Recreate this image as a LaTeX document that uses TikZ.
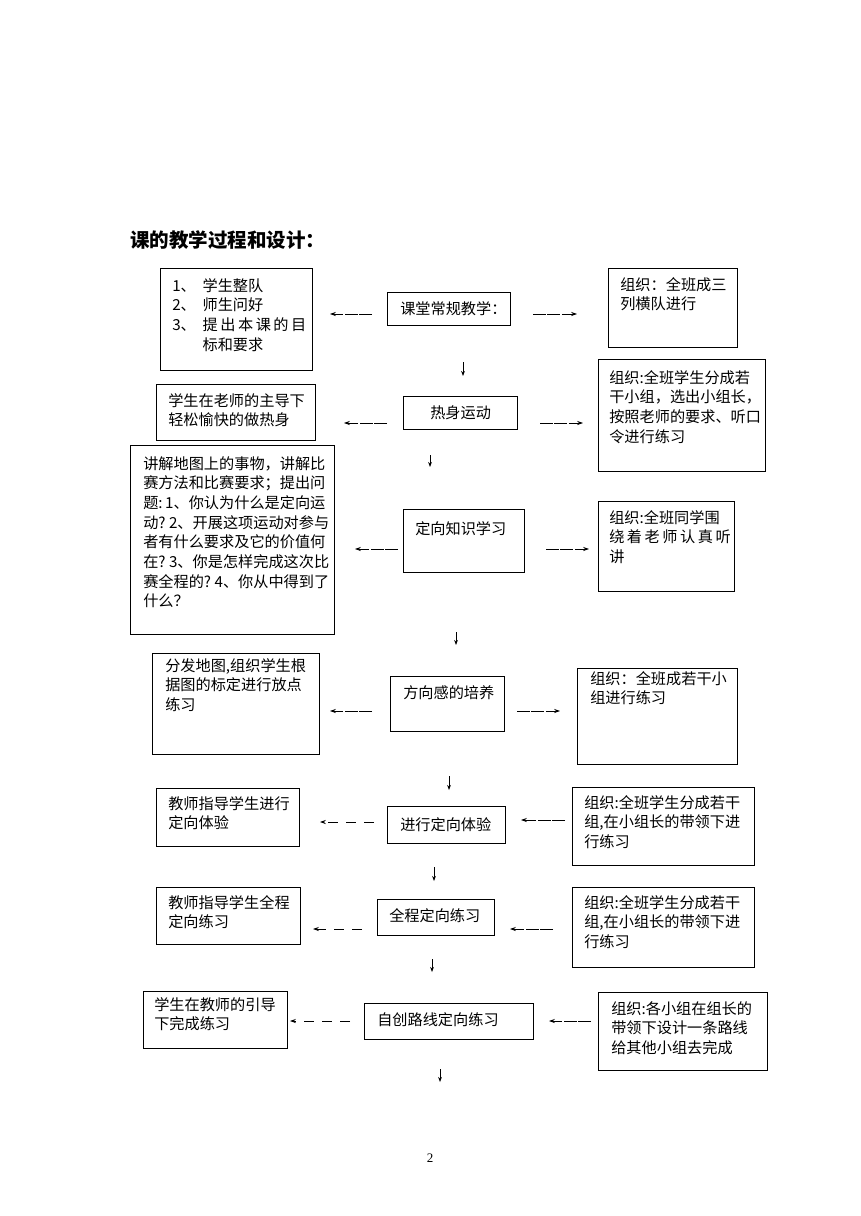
\documentclass[tikz,border=0pt]{standalone}
\usepackage{fontspec}
\setmainfont{Noto Sans CJK SC}
\newfontfamily\numfont{Liberation Serif}
\usetikzlibrary{arrows.meta,positioning,fit}

\tikzset{
	box/.style={draw, line width=0.6pt, inner sep=0pt},
	txt/.style={anchor=north west, inner sep=0pt, align=left, font=\fontsize{10.5}{13.6}\selectfont},
	larr/.style={-{Stealth[length=4pt,width=2.8pt]}, line width=0.5pt, dash pattern=on 9pt off 1pt},
	warr/.style={-{Stealth[length=4pt,width=2.8pt]}, line width=0.5pt, dash pattern=on 7pt off 5.5pt},
	darr/.style={-{Stealth[length=3.5pt,width=2.6pt]}, line width=0.5pt}
}

\begin{document}
\begin{tikzpicture}[x=0.6919pt,y=-0.6919pt]
	\fill[white] (0,0) rectangle (860,1216);
	\useasboundingbox (0,0) rectangle (860,1216);
	
	\node[anchor=west, inner sep=0pt, font=\fontsize{13.5}{16}\selectfont\bfseries] (title) at (130,240) {课的教学过程和设计：};
	
	% row 1
	\node[box, fit={(160,268) (312,370)}] (kt-l) {};
	\node[txt] (kt-lt) at (172,278) {\makebox[21pt][l]{1、}学生整队\\ \makebox[21pt][l]{2、}师生问好\\ \makebox[21pt][l]{3、}提\,出\,本\,课\,的\,目\\ \hspace*{21pt}标和要求};
	\node[box, fit={(387,292) (510,325)}] (kt) {};
	\node[txt] (kt-t) at (400,301) {课堂常规教学：};
	\node[box, fit={(608,268) (737,347)}] (kt-r) {};
	\node[txt] (kt-rt) at (620,277) {组织：全班成三\\列横队进行};
	
	\coordinate (kt-a) at (372,314);
	\coordinate (kt-b) at (330,314);
	\coordinate (kt-c) at (533,314);
	\coordinate (kt-d) at (577,314);
	\coordinate (kt-e) at (463,362);
	\coordinate (kt-f) at (463,376);
	\draw[larr] (kt-a) -- (kt-b);
	\draw[larr] (kt-c) -- (kt-d);
	\draw[darr] (kt-e) -- (kt-f);
	
	% row 2
	\node[box, fit={(156,384) (315,440)}] (rs-l) {};
	\node[txt] (rs-lt) at (168,393) {学生在老师的主导下\\轻松愉快的做热身};
	\node[box, fit={(403,396) (517,429)}] (rs) {};
	\node[txt] (rs-t) at (430,405) {热身运动};
	\node[box, fit={(598,359) (765,471)}] (rs-r) {};
	\node[txt] (rs-rt) at (609,370) {组织:全班学生分成若\\干小组，选出小组长，\\按照老师的要求、听口\\令进行练习};
	
	\coordinate (rs-a) at (387,423);
	\coordinate (rs-b) at (344,423);
	\coordinate (rs-c) at (540,423);
	\coordinate (rs-d) at (583,423);
	\coordinate (rs-e) at (430,455);
	\coordinate (rs-f) at (430,467);
	\draw[larr] (rs-a) -- (rs-b);
	\draw[larr] (rs-c) -- (rs-d);
	\draw[darr] (rs-e) -- (rs-f);
	
	% row 3
	\node[box, fit={(130,445) (334,634)}] (zs-l) {};
	\node[txt] (zs-lt) at (143,456) {讲解地图上的事物，讲解比\\赛方法和比赛要求；提出问\\题:\,1、你认为什么是定向运\\动?\ 2、开展这项运动对参与\\者有什么要求及它的价值何\\在?\ 3、你是怎样完成这次比\\赛全程的?\ 4、你从中得到了\\什么？};
	\node[box, fit={(403,509) (524,572)}] (zs) {};
	\node[txt] (zs-t) at (415,521) {定向知识学习};
	\node[box, fit={(598,501) (734,591)}] (zs-r) {};
	\node[txt] (zs-rt) at (609,510) {组织:全班同学围\\绕\,着\,老\,师\,认\,真\,听\\讲};
	
	\coordinate (zs-a) at (398,549);
	\coordinate (zs-b) at (355,549);
	\coordinate (zs-c) at (546,549);
	\coordinate (zs-d) at (589,549);
	\coordinate (zs-e) at (456,632);
	\coordinate (zs-f) at (456,645);
	\draw[larr] (zs-a) -- (zs-b);
	\draw[larr] (zs-c) -- (zs-d);
	\draw[darr] (zs-e) -- (zs-f);
	
	% row 4
	\node[box, fit={(152,653) (319,754)}] (fx-l) {};
	\node[txt] (fx-lt) at (165,658) {分发地图,组织学生根\\据图的标定进行放点\\练习};
	\node[box, fit={(390,676) (504,731)}] (fx) {};
	\node[txt] (fx-t) at (403,685) {方向感的培养};
	\node[box, fit={(577,668) (737,764)}] (fx-r) {};
	\node[txt] (fx-rt) at (590,671) {组织：全班成若干小\\组进行练习};
	
	\coordinate (fx-a) at (372,711);
	\coordinate (fx-b) at (330,711);
	\coordinate (fx-c) at (517,711);
	\coordinate (fx-d) at (560,711);
	\coordinate (fx-e) at (449,776);
	\coordinate (fx-f) at (449,790);
	\draw[larr] (fx-a) -- (fx-b);
	\draw[larr] (fx-c) -- (fx-d);
	\draw[darr] (fx-e) -- (fx-f);
	
	% row 5
	\node[box, fit={(156,788) (299,846)}] (ty-l) {};
	\node[txt] (ty-lt) at (168,796) {教师指导学生进行\\定向体验};
	\node[box, fit={(387,806) (505,843)}] (ty) {};
	\node[txt] (ty-t) at (400,817) {进行定向体验};
	\node[box, fit={(572,787) (754,865)}] (ty-r) {};
	\node[txt] (ty-rt) at (584,795) {组织:全班学生分成若干\\组,在小组长的带领下进\\行练习};
	
	\coordinate (ty-a) at (374,822);
	\coordinate (ty-b) at (320,822);
	\coordinate (ty-c) at (565,820);
	\coordinate (ty-d) at (521,820);
	\coordinate (ty-e) at (434,867);
	\coordinate (ty-f) at (434,881);
	\draw[warr] (ty-a) -- (ty-b);
	\draw[larr] (ty-c) -- (ty-d);
	\draw[darr] (ty-e) -- (ty-f);
	
	% row 6
	\node[box, fit={(156,887) (300,944)}] (qc-l) {};
	\node[txt] (qc-lt) at (168,895) {教师指导学生全程\\定向练习};
	\node[box, fit={(377,899) (494,935)}] (qc) {};
	\node[txt] (qc-t) at (389,908) {全程定向练习};
	\node[box, fit={(572,887) (754,967)}] (qc-r) {};
	\node[txt] (qc-rt) at (584,895) {组织:全班学生分成若干\\组,在小组长的带领下进\\行练习};
	
	\coordinate (qc-a) at (362,929);
	\coordinate (qc-b) at (313,929);
	\coordinate (qc-c) at (553,929);
	\coordinate (qc-d) at (510,929);
	\coordinate (qc-e) at (432,959);
	\coordinate (qc-f) at (432,972);
	\draw[warr] (qc-a) -- (qc-b);
	\draw[larr] (qc-c) -- (qc-d);
	\draw[darr] (qc-e) -- (qc-f);
	
	% row 7
	\node[box, fit={(143,991) (287,1048)}] (zc-l) {};
	\node[txt] (zc-lt) at (154,997) {学生在教师的引导\\下完成练习};
	\node[box, fit={(364,1003) (533,1039)}] (zc) {};
	\node[txt] (zc-t) at (377,1012) {自创路线定向练习};
	\node[box, fit={(598,992) (767,1070)}] (zc-r) {};
	\node[txt] (zc-rt) at (611,1001) {组织:各小组在组长的\\带领下设计一条路线\\给其他小组去完成};
	
	\coordinate (zc-a) at (350,1021);
	\coordinate (zc-b) at (290,1021);
	\coordinate (zc-c) at (591,1021);
	\coordinate (zc-d) at (549,1021);
	\coordinate (zc-e) at (440,1069);
	\coordinate (zc-f) at (440,1082);
	\draw[warr] (zc-a) -- (zc-b);
	\draw[larr] (zc-c) -- (zc-d);
	\draw[darr] (zc-e) -- (zc-f);
	
	\node[font=\numfont\fontsize{9}{10}\selectfont] (pg) at (430,1158) {2};
\end{tikzpicture}
\end{document}
